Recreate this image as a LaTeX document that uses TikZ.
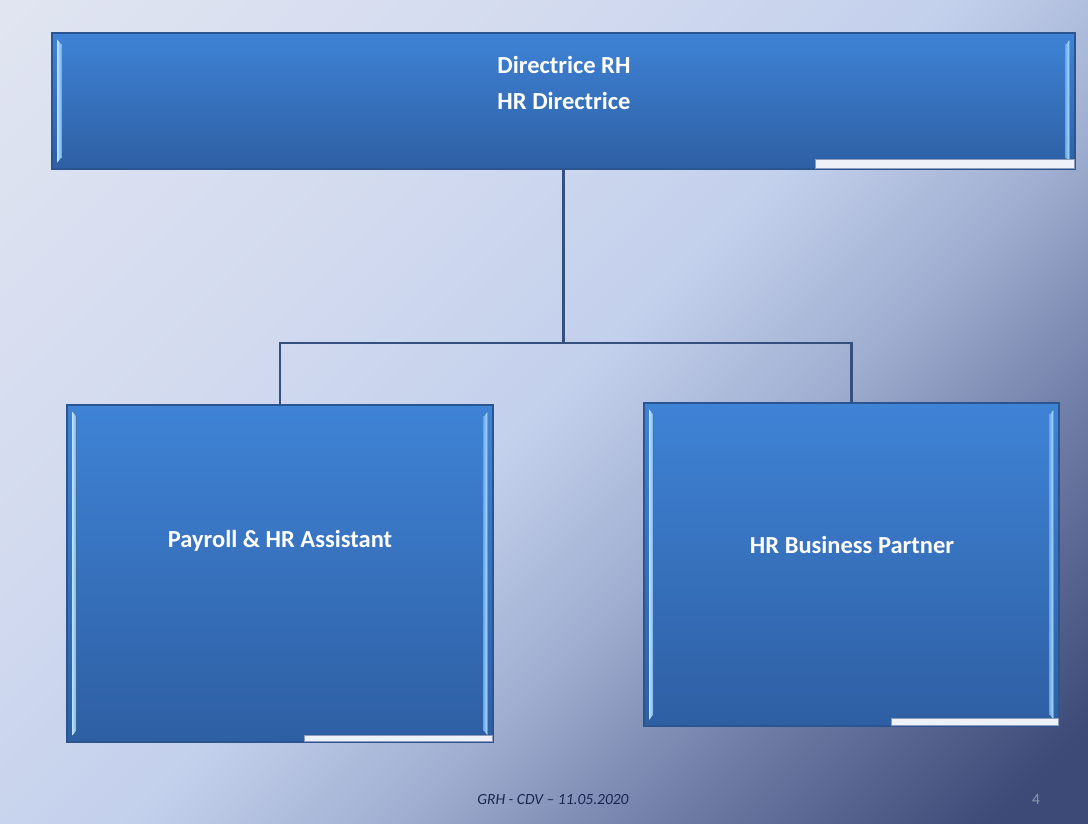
\documentclass[tikz,border=0pt]{standalone}
\usepackage{fontspec}
\setmainfont{Carlito}
\usetikzlibrary{calc}
\definecolor{bgA}{HTML}{E1E5F1}
\definecolor{bgB}{HTML}{D2DAEF}
\definecolor{bgC}{HTML}{C3D0EC}
\definecolor{bgD}{HTML}{9FADD0}
\definecolor{bgE}{HTML}{6E7CA6}
\definecolor{bgF}{HTML}{3D4A77}
\definecolor{boxtop}{HTML}{3F83D6}
\definecolor{boxbot}{HTML}{2E5FA3}
\definecolor{boxline}{HTML}{2A5590}
\definecolor{bevlight}{HTML}{B4DEFC}
\definecolor{bevmid}{HTML}{6FAEEA}
\definecolor{barfill}{HTML}{EEF2F8}
\definecolor{barline}{HTML}{8E9BBA}
\definecolor{connc}{HTML}{34507F}
\definecolor{footc}{HTML}{1A2650}
\definecolor{numc}{HTML}{8E97AE}
\pgfdeclarehorizontalshading{bgshade}{100bp}{color(0bp)=(bgA); color(15bp)=(bgA); color(36bp)=(bgB); color(50bp)=(bgC); color(60bp)=(bgD); color(70bp)=(bgE); color(82bp)=(bgF); color(100bp)=(bgF)}
\newcommand{\bevels}[1]{%
  \fill[left color=bevlight, right color=bevmid] ($(#1.north west)+(6,7)$) -- ($(#1.north west)+(10,12)$) -- ($(#1.south west)+(10,-12)$) -- ($(#1.south west)+(6,-7)$) -- cycle;
  \fill[left color=bevmid, right color=bevlight] ($(#1.north east)+(-6,7)$) -- ($(#1.north east)+(-10,12)$) -- ($(#1.south east)+(-10,-12)$) -- ($(#1.south east)+(-6,-7)$) -- cycle;}
\newcommand{\whitebar}[3]{%
  \fill[barfill, draw=barline, line width=0.8pt] ($(#1.south east)+(-#2,-#3)$) rectangle ($(#1.south east)+(-1,-1)$);}
\begin{document}
\begin{tikzpicture}[x=1pt,y=-1pt,
  orgbox/.style={rectangle, draw=boxline, line width=1.2pt, top color=boxtop, bottom color=boxbot, inner sep=0pt},
  lbl/.style={text=white, font=\bfseries\fontsize{24.5}{36}\selectfont, align=center},
  conn/.style={draw=connc, line width=2.4pt},
  foot/.style={text=footc, font=\itshape\fontsize{15.5}{18}\selectfont},
  pagenum/.style={text=numc, font=\fontsize{15.5}{18}\selectfont}]
\useasboundingbox (0,0) rectangle (1088,823);
\shade[shading=bgshade, shading angle=-45] (0,0) rectangle (1088,823);

\node[orgbox, minimum width=1023pt, minimum height=136pt] (top) at (563.5,101) {};
\node[orgbox, minimum width=426pt, minimum height=337pt] (pay) at (280,573.5) {};
\node[orgbox, minimum width=415pt, minimum height=323pt] (hrbp) at (851.5,564.5) {};

\bevels{top}
\bevels{pay}
\bevels{hrbp}
\whitebar{top}{260}{10}
\whitebar{pay}{189}{7}
\whitebar{hrbp}{168}{8}

\node[lbl] (toplbl) at (564,83) {Directrice RH\\HR Directrice};
\node[lbl] (paylbl) at (280,541) {Payroll \& HR Assistant};
\node[lbl] (hrbplbl) at (852,545) {HR Business Partner};

\coordinate (j) at (564,343);
\draw[conn] (top.south) -- (top.south |- j);
\draw[conn] (top.south |- j) -| (pay.north);
\draw[conn] (top.south |- j) -| (hrbp.north);

\node[foot] (footer) at (553,800) {GRH - CDV – 11.05.2020};
\node[pagenum] (num) at (1036,800) {4};
\end{tikzpicture}
\end{document}
